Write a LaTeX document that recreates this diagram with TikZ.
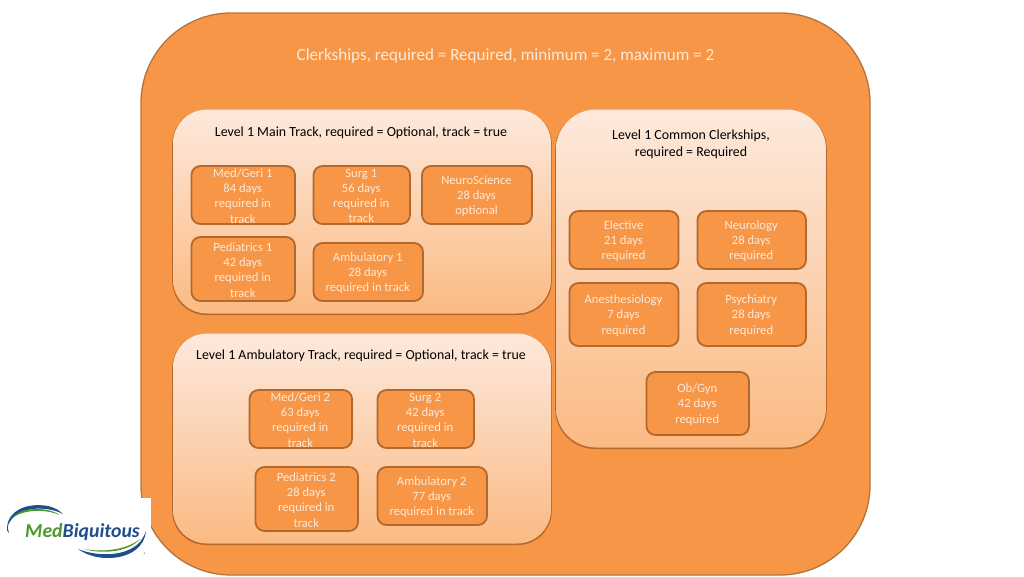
\documentclass[tikz,border=0pt]{standalone}
\usepackage{fontspec}
\setmainfont{Carlito}
\definecolor{orangefill}{HTML}{F79646}
\definecolor{orangeline}{HTML}{B5733B}
\definecolor{boxline}{HTML}{B5682C}
\definecolor{paneltop}{HTML}{FDE9DC}
\definecolor{panelbot}{HTML}{FBBA83}
\definecolor{txtw}{HTML}{FDE9D9}
\definecolor{mbblue}{HTML}{1F4E8C}
\definecolor{mbgreen}{HTML}{4C9A2A}
\tikzset{
  x=1pt,y=-1pt,
  outerbox/.style={draw=orangeline,line width=1.3pt,fill=orangefill,rounded corners=90pt,inner sep=0pt},
  panel/.style={rounded corners=34pt,top color=paneltop,bottom color=panelbot,inner sep=0pt},
  panelback/.style={rounded corners=34pt,fill=boxline,inner sep=0pt},
  panelwide/.style={rounded corners=40pt,top color=paneltop,bottom color=panelbot,inner sep=0pt},
  panelwideback/.style={rounded corners=40pt,fill=boxline,inner sep=0pt},
  item/.style={draw=boxline,line width=1.8pt,fill=orangefill,rounded corners=9pt,inner sep=0pt},
  itemtext/.style={text=txtw,align=center,font=\fontsize{12.6}{15.3}\selectfont,inner sep=0pt,yshift=-1pt,xshift=-0.5pt},
  paneltext/.style={text=black,align=center,font=\fontsize{13.9}{16.5}\selectfont,inner sep=0pt},
  titletext/.style={text=txtw,align=center,font=\fontsize{17.05}{20}\selectfont,inner sep=0pt},
}
\newcommand{\bx}[8]{% style name x1 y1 x2 y2 textstyle text
  \path[#1] (#3,#4) rectangle (#5,#6);
  \node[#7] (#2) at ({(#3+#5)/2},{(#4+#6)/2}) {#8};}
\begin{document}
\begin{tikzpicture}
\useasboundingbox (0,0) rectangle (1024,576);
\fill[white] (0,0) rectangle (1024,576);
\path[outerbox] (141,13) rectangle (870,575);
\node[titletext] (title) at (505.5,56) {Clerkships, required = Required, minimum = 2, maximum = 2};

\path[panelback] (172.2,110) rectangle (551.8,315);
\path[panel] (173,109.5) rectangle (551,313.5);
\node[paneltext] (mainlabel) at (361,132.5) {Level 1 Main Track, required = Optional, track = true};
\bx{item}{medgeri1}{191.5}{166}{295}{224}{itemtext}{Med/Geri 1\\84 days\\required in\\track}
\bx{item}{surg1}{313.5}{166}{410}{224}{itemtext}{Surg 1\\56 days\\required in\\track}
\bx{item}{neuro}{422}{166}{532}{224}{itemtext}{NeuroScience\\28 days\\optional}
\bx{item}{peds1}{191.5}{237}{295}{301}{itemtext}{Pediatrics 1\\42 days\\required in\\track}
\bx{item}{amb1}{313.5}{243}{423}{301}{itemtext}{Ambulatory 1\\28 days\\required in track}

\path[panelback] (172.2,334) rectangle (551.8,545);
\path[panel] (173,333.5) rectangle (551,543.5);
\node[paneltext] (amblabel) at (361,356) {Level 1 Ambulatory Track, required = Optional, track = true};
\bx{item}{medgeri2}{249.5}{390}{352}{448}{itemtext}{Med/Geri 2\\63 days\\required in\\track}
\bx{item}{surg2}{377.5}{390}{474}{448}{itemtext}{Surg 2\\42 days\\required in\\track}
\bx{item}{peds2}{255.5}{467}{358}{531}{itemtext}{Pediatrics 2\\28 days\\required in\\track}
\bx{item}{amb2}{377.5}{467}{487}{525}{itemtext}{Ambulatory 2\\77 days\\required in track}

\path[panelwideback] (555.2,110) rectangle (826.8,449);
\path[panelwide] (556,109.5) rectangle (826,447.5);
\node[paneltext] (commonlabel) at (691,144.5) {Level 1 Common Clerkships,\\required = Required};
\bx{item}{elective}{569.5}{211}{678.5}{269}{itemtext}{Elective\\21 days\\required}
\bx{item}{neurology}{697.5}{211}{806}{269}{itemtext}{Neurology\\28 days\\required}
\bx{item}{anes}{569.5}{283}{678.5}{346}{itemtext}{Anesthesiology\\7 days\\required}
\bx{item}{psych}{697.5}{283}{806}{346}{itemtext}{Psychiatry\\28 days\\required}
\bx{item}{obgyn}{646.5}{372}{749}{435}{itemtext}{Ob/Gyn\\42 days\\required}

% logo
\fill[white] (0,498) rectangle (151,576);
\fill[mbblue] (7,527) .. controls (8,512) and (25,502) .. (48,506) .. controls (56,508) and (60,511) .. (63,514)
  .. controls (50,507) and (20,504) .. (9,523) .. controls (7,527) and (8,530) .. (9,533) .. controls (7,532) and (7,530) .. (7,527) -- cycle;
\fill[mbgreen] (12,518) .. controls (22,506) and (48,507) .. (60,515) .. controls (45,509) and (25,509) .. (12,518) -- cycle;
\node[font=\bfseries\itshape\fontsize{19.8}{22}\selectfont,inner sep=0pt,anchor=west] (logotext) at (25,532)
  {\textcolor{mbgreen}{Med}\textcolor{mbblue}{Biquitous}};
\fill[mbblue] (146,531) .. controls (145,545) and (132,558) .. (108,558) .. controls (95,558) and (85,554) .. (78,549)
  .. controls (95,556) and (125,558) .. (140,542) .. controls (143,538) and (145,534) .. (146,531) -- cycle;
\fill[mbgreen] (140,539) .. controls (128,553) and (100,554) .. (84,549) .. controls (100,552) and (125,551) .. (140,539) -- cycle;
\node[font=\fontsize{5}{6}\selectfont,text=mbblue,inner sep=0pt] (reg) at (145,555) {®};
\end{tikzpicture}
\end{document}
